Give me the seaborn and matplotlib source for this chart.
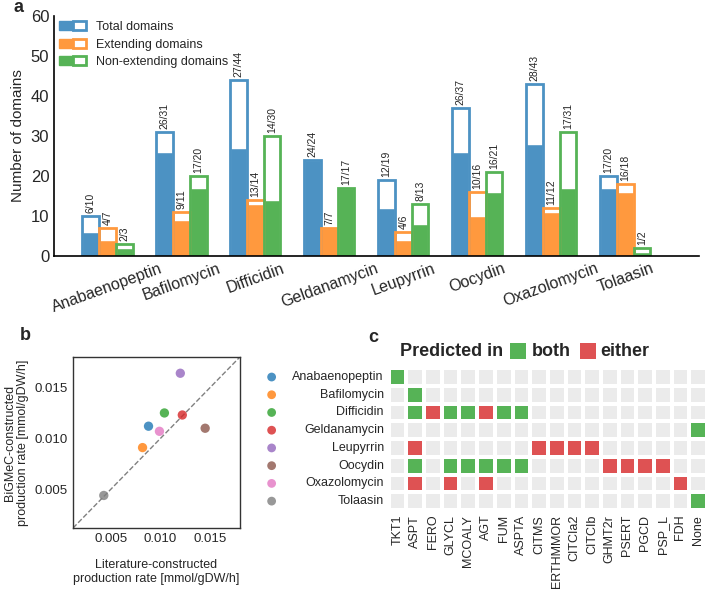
import numpy as np
import pandas as pd
import matplotlib
matplotlib.use("Agg")
import matplotlib.pyplot as plt
import seaborn as sns
from matplotlib.patches import Patch, Rectangle
from matplotlib.legend_handler import HandlerTuple
from matplotlib.colors import ListedColormap
from matplotlib.transforms import blended_transform_factory

# compounds shared by all three panels
compounds = ["Anabaenopeptin", "Bafilomycin", "Difficidin", "Geldanamycin",
             "Leupyrrin", "Oocydin", "Oxazolomycin", "Tolaasin"]

# panel a: found / total domains
total_found = [6, 26, 27, 24, 12, 26, 28, 17]
total_all = [10, 31, 44, 24, 19, 37, 43, 20]
ext_found = [4, 9, 13, 7, 4, 10, 11, 16]
ext_all = [7, 11, 14, 7, 6, 16, 12, 18]
nonext_found = [2, 17, 14, 17, 8, 16, 17, 1]
nonext_all = [3, 20, 30, 17, 13, 21, 31, 2]
domain_types = ["Total domains", "Extending domains", "Non-extending domains"]

# panel b: production rates
lit_rate = [0.0088, 0.0082, 0.0104, 0.0122, 0.0120, 0.0145, 0.0099, 0.0043]
bigmec_rate = [0.0112, 0.0091, 0.0125, 0.0123, 0.0164, 0.0110, 0.0107, 0.0044]

# panel c: 0 = none, 1 = both, 2 = either
reactions = ["TKT1", "ASPT", "FERO", "GLYCL", "MCOALY", "AGT", "FUM", "ASPTA",
             "CITMS", "ERTHMMOR", "CITCIa2", "CITCIb", "GHMT2r", "PSERT",
             "PGCD", "PSP_L", "FDH", "None"]
anabaenopeptin_row = [1, 0, 0, 0, 0, 0, 0, 0, 0, 0, 0, 0, 0, 0, 0, 0, 0, 0]
bafilomycin_row = [0, 1, 0, 0, 0, 0, 0, 0, 0, 0, 0, 0, 0, 0, 0, 0, 0, 0]
difficidin_row = [0, 1, 2, 1, 1, 2, 1, 1, 0, 0, 0, 0, 0, 0, 0, 0, 0, 0]
geldanamycin_row = [0, 0, 0, 0, 0, 0, 0, 0, 0, 0, 0, 0, 0, 0, 0, 0, 0, 1]
leupyrrin_row = [0, 2, 0, 0, 0, 0, 0, 0, 2, 2, 2, 2, 0, 0, 0, 0, 0, 0]
oocydin_row = [0, 1, 0, 1, 1, 1, 1, 1, 0, 0, 0, 0, 2, 2, 2, 2, 0, 0]
oxazolomycin_row = [0, 2, 0, 2, 0, 2, 0, 0, 0, 0, 0, 0, 0, 0, 0, 0, 2, 0]
tolaasin_row = [0, 0, 0, 0, 0, 0, 0, 0, 0, 0, 0, 0, 0, 0, 0, 0, 0, 1]

sns.set_style("white")
plt.rcParams['font.family'] = ['Liberation Sans', 'DejaVu Sans']

tab = sns.color_palette("tab10")
a80 = lambda c: tuple(0.8 * np.array(c) + 0.2)   # alpha 0.8 over white
bar_cols = [a80(tab[0]), a80(tab[1]), a80(tab[2])]
grey_cell = "#ebebeb"
green_cell = a80(tab[2])
red_cell = a80(tab[3])

fig = plt.figure(figsize=(7.12, 5.90), dpi=100)

# ---------------- panel a ----------------
ax_a = fig.add_axes([0.076, 0.566, 0.906, 0.407])
df = pd.DataFrame({
    "compound": compounds * 3,
    "type": [t for t in domain_types for _ in compounds],
    "found": total_found + ext_found + nonext_found,
    "total": total_all + ext_all + nonext_all,
})
sns.barplot(data=df, x="compound", y="found", hue="type", palette=bar_cols,
            saturation=1, width=0.68, ax=ax_a, legend=False)
sns.barplot(data=df, x="compound", y="total", hue="type", palette=bar_cols,
            saturation=1, width=0.68, fill=False, linewidth=2, ax=ax_a, legend=False)

n_types = len(domain_types)
for cont_i, cont in enumerate(ax_a.containers[n_types:]):
    sub = df[df["type"] == domain_types[cont_i]]
    for bar, f, t in zip(cont, sub["found"], sub["total"]):
        ax_a.text(bar.get_x() + bar.get_width() / 2, t + 0.8, f"{f}/{t}",
                  rotation=90, ha="center", va="bottom", fontsize=7.5)

ax_a.set_xlim(-0.72, 8.0)
ax_a.set_ylim(0, 60)
ax_a.set_yticks(range(0, 61, 10))
ax_a.tick_params(axis="y", labelsize=12, length=0)
ax_a.tick_params(axis="x", labelsize=11.5, length=0)
plt.setp(ax_a.get_xticklabels(), rotation=20, ha="center")
ax_a.set_xlabel("")
ax_a.set_ylabel("Number of domains", fontsize=11)
sns.despine(ax=ax_a)
for s in ["left", "bottom"]:
    ax_a.spines[s].set_color("black")
    ax_a.spines[s].set_linewidth(1.2)

handles = [(Patch(facecolor=c, edgecolor=c), Patch(facecolor="white", edgecolor=c, linewidth=2))
           for c in bar_cols]
ax_a.legend(handles, domain_types, handler_map={tuple: HandlerTuple(ndivide=None, pad=0)},
            loc="upper left", frameon=False, fontsize=9, handlelength=2.15,
            handletextpad=0.8, borderaxespad=0.0, labelspacing=0.45)

# ---------------- panel b ----------------
ax_b = fig.add_axes([0.1025, 0.105, 0.2345, 0.29])
dfb = pd.DataFrame({"compound": compounds, "lit": lit_rate, "big": bigmec_rate})
sns.scatterplot(data=dfb, x="lit", y="big", hue="compound", palette=tab[:8],
                s=45, alpha=0.8, linewidth=0, legend=False, ax=ax_b, zorder=3)
ax_b.plot([0, 1], [0, 1], transform=ax_b.transAxes, ls="--", color="grey", lw=1)
ax_b.set_xlim(0.0012, 0.018)
ax_b.set_ylim(0.0012, 0.018)
ax_b.set_xticks([0.005, 0.010, 0.015])
ax_b.set_yticks([0.005, 0.010, 0.015])
ax_b.set_xticklabels(["0.005", "0.010", "0.015"])
ax_b.set_yticklabels(["0.005", "0.010", "0.015"])
ax_b.tick_params(labelsize=9.5, length=0)
ax_b.set_xlabel("Literature-constructed\nproduction rate [mmol/gDW/h]", fontsize=9, labelpad=10)
ax_b.set_ylabel("BiGMeC-constructed\nproduction rate [mmol/gDW/h]", fontsize=9)
for s in ax_b.spines.values():
    s.set_color("#333333")
    s.set_linewidth(1)

# ---------------- panel c ----------------
ax_c = fig.add_axes([0.546, 0.1356, 0.447, 0.2404])
mat = pd.DataFrame([anabaenopeptin_row, bafilomycin_row, difficidin_row, geldanamycin_row,
                    leupyrrin_row, oocydin_row, oxazolomycin_row, tolaasin_row],
                   index=compounds, columns=reactions)
sns.heatmap(mat, cmap=ListedColormap([grey_cell, green_cell, red_cell]), vmin=-0.5, vmax=2.5,
            cbar=False, linewidths=1.5, linecolor="white", ax=ax_c)
ax_c.tick_params(length=0, labelsize=9)
plt.setp(ax_c.get_xticklabels(), rotation=90)
plt.setp(ax_c.get_yticklabels(), rotation=0)
ax_c.set_xlabel("")
ax_c.set_ylabel("")
trans = blended_transform_factory(ax_c.transAxes, ax_c.transData)
ax_c.scatter([-0.368] * len(compounds), np.arange(len(compounds)) + 0.5, c=tab[:8],
             s=40, alpha=0.8, linewidth=0, transform=trans, clip_on=False)

fig.text(400 / 712, 1 - 351 / 590, "Predicted in", fontsize=13, fontweight="bold", va="center")
fig.add_artist(Rectangle((510 / 712, 1 - 359 / 590), 16 / 712, 16 / 590,
                         facecolor=green_cell, edgecolor="none", transform=fig.transFigure))
fig.text(532 / 712, 1 - 351 / 590, "both", fontsize=13, fontweight="bold", va="center")
fig.add_artist(Rectangle((580 / 712, 1 - 359 / 590), 16 / 712, 16 / 590,
                         facecolor=red_cell, edgecolor="none", transform=fig.transFigure))
fig.text(600 / 712, 1 - 351 / 590, "either", fontsize=13, fontweight="bold", va="center")

# panel letters
fig.text(18 / 712, 1 - 8 / 590, "a", fontsize=13, fontweight="bold", ha="center", va="center")
fig.text(25 / 712, 1 - 336 / 590, "b", fontsize=13, fontweight="bold", ha="center", va="center")
fig.text(373 / 712, 1 - 337 / 590, "c", fontsize=13, fontweight="bold", ha="center", va="center")

fig.savefig("out.png", dpi=100)
